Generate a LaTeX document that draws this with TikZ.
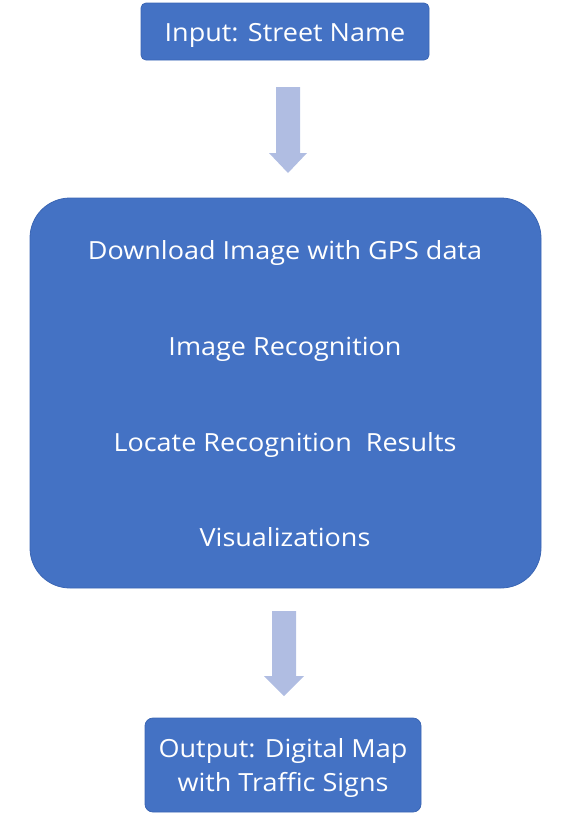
\documentclass[tikz,border=0pt]{standalone}
\usepackage{fontspec}
\setmainfont[FakeStretch=1.08]{Open Sans}
\definecolor{boxblue}{HTML}{4472C4}
\definecolor{boxedge}{HTML}{3B66B4}
\definecolor{arrowblue}{HTML}{B0BDE2}

\begin{document}
\begin{tikzpicture}[x=1pt,y=-1pt,
stage/.style={fill=boxblue, draw=boxedge, line width=0.8pt, text=white, inner sep=0pt},
steplabel/.style={text=white, anchor=base, inner sep=0pt, font=\fontsize{25}{34}\selectfont},
flow/.style={fill=arrowblue}
]
\useasboundingbox (0,0) rectangle (570,823);

\node[stage, rounded corners=5pt, minimum width=288pt, minimum height=57pt](input) at (285,31.5){};
\node[steplabel](input_text) at (285,41){Input: Street Name};

\node[stage, rounded corners=40pt, minimum width=511pt, minimum height=390pt](pipeline) at (285.5,393){};
\node[steplabel](download) at (285,259){Download Image with GPS data};
\node[steplabel](recognition) at (285,355){Image Recognition};
\node[steplabel](locate) at (285,451){Locate Recognition\ \ Results};
\node[steplabel](visual) at (285,546){Visualizations};

\node[stage, rounded corners=8pt, minimum width=276pt, minimum height=94pt](output) at (283,765){};
\node[steplabel](output_text) at (283,757){Output: Digital Map};
\node[steplabel](output_text_2) at (283,791){with Traffic Signs};

% block arrows between the stages
\fill[flow] (276,87) -- (300,87) -- (300,153) -- (307,153) -- (288,173) -- (269,153) -- (276,153) -- cycle;
\fill[flow] (272,611) -- (296,611) -- (296,676) -- (304,676) -- (284,696) -- (264,676) -- (272,676) -- cycle;
\end{tikzpicture}
\end{document}
